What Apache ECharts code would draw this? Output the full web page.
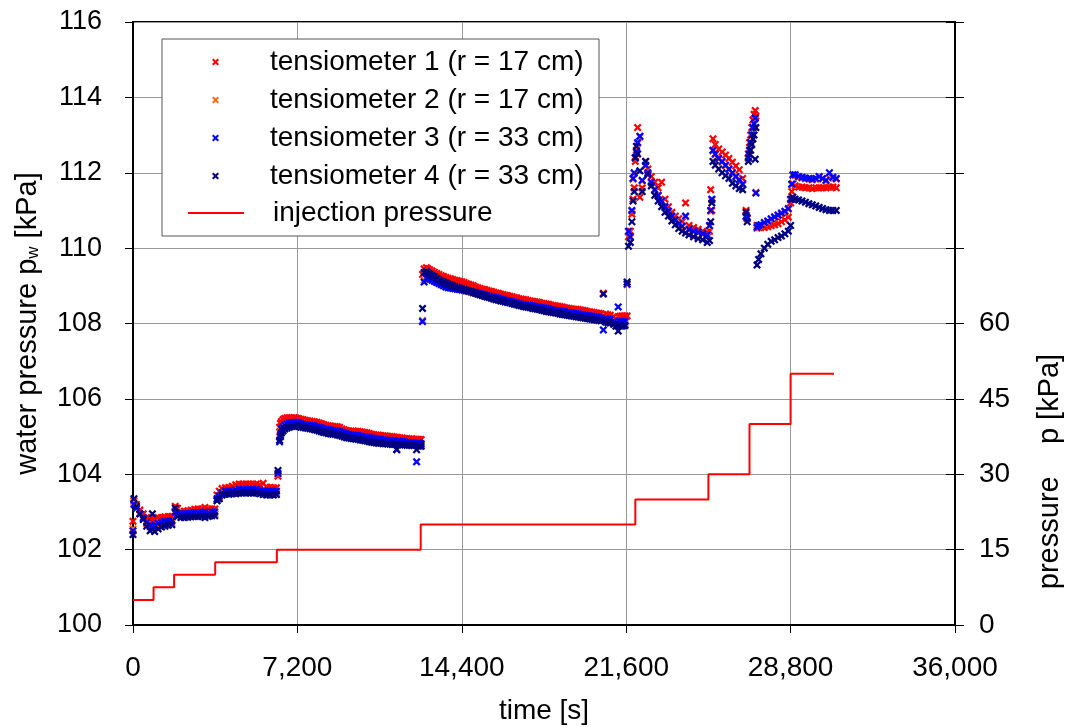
<!DOCTYPE html>
<html>
<head>
<meta charset="utf-8">
<script src="https://cdn.jsdelivr.net/npm/echarts@6/dist/echarts.min.js"></script>
<style>html,body{margin:0;padding:0;background:#fff;}#c{width:1066px;height:727px;}</style>
</head>
<body>
<div id="c"></div>
<script>
// ---- data (time in s, water pressure in kPa) ----
const time = [
  0, 40, 150, 300, 450, 600, 750, 850, 950, 1100, 1250, 1400, 1550, 1700,
  1850, 1950, 2100, 2250, 2400, 2550, 2700, 2850, 3000, 3150, 3300, 3450, 3580,
  3680, 3780, 3900, 4050, 4200, 4350, 4500, 4650, 4800, 4950, 5100, 5250, 5400, 5550, 5700, 5850, 6000, 6150, 6280, 6350,
  6420, 6460, 6500, 6570, 6650, 6750, 6850, 6950, 7050, 7150,
  7250, 7350, 7450, 7550, 7650, 7750, 7850, 7950, 8050, 8150,
  8250, 8350, 8450, 8550, 8650, 8750, 8850, 8950, 9050, 9150,
  9250, 9350, 9450, 9550, 9650, 9750, 9850, 9950, 10050, 10150,
  10250, 10350, 10450, 10550, 10650, 10750, 10850, 10950, 11050, 11150,
  11250, 11350, 11450, 11550, 11620, 11700, 11800, 11900, 12000, 12100,
  12200, 12300, 12420, 12480, 12550, 12620,
  12680, 12750, 12850, 12920, 13000, 13100, 13200, 13300, 13400, 13500,
  13600, 13700, 13800, 13900, 14000, 14100, 14200, 14300, 14400, 14500,
  14600, 14700, 14800, 14900, 15000, 15100, 15200, 15300, 15400, 15500,
  15600, 15700, 15800, 15900, 16000, 16100, 16200, 16300, 16400, 16500,
  16600, 16700, 16800, 16900, 17000, 17100, 17200, 17300, 17400, 17500,
  17600, 17700, 17800, 17900, 18000, 18100, 18200, 18300, 18400, 18500,
  18600, 18700, 18800, 18900, 19000, 19100, 19200, 19300, 19400, 19500,
  19600, 19700, 19800, 19900, 20000, 20100, 20200, 20300, 20400, 20500,
  20600, 20700, 20800, 20900, 21050, 21150, 21250, 21320, 21400, 21480, 21550,
  21640, 21700, 21780, 21850, 21900, 21950, 22000, 22050, 22100, 22200, 22300, 22450, 22550, 22700, 22850, 23000, 23150, 23300, 23450, 23600, 23750, 23900, 24050, 24200, 24350, 24550, 24750, 24950, 25150,
  25250, 25300, 25350, 25400, 25500, 25650, 25800, 25950, 26100, 26250, 26400, 26550, 26700, 26850, 26900,
  26950, 27000, 27050, 27100, 27150, 27200, 27250, 27280,
  27330, 27400, 27500, 27650, 27800, 27950, 28100, 28250, 28400, 28550, 28700, 28800,
  28850, 28900, 29000, 29150, 29300, 29450, 29600, 29750, 29900, 30050, 30200, 30350, 30500, 30650, 30800
];
const tens1 = [
  102.75, 103.3, 103.2, 103.05, 102.95, 102.85, 102.8, 102.8, 102.82, 102.85, 102.85, 102.87, 102.88, 102.88,
  103.15, 103.1, 103.0, 103.02, 103.03, 103.05, 103.07, 103.08, 103.08, 103.12, 103.08, 103.08, 103.08,
  103.45, 103.55, 103.62, 103.64, 103.65, 103.68, 103.72, 103.74, 103.74, 103.74, 103.74, 103.74, 103.74, 103.72, 103.76, 103.66, 103.65, 103.64, 103.64, 103.95,
  105.25, 105.35, 105.4, 105.45, 105.48, 105.5, 105.5, 105.5, 105.5, 105.49,
  105.48, 105.46, 105.45, 105.43, 105.42, 105.41, 105.4, 105.39, 105.38, 105.36,
  105.34, 105.32, 105.3, 105.29, 105.28, 105.27, 105.27, 105.26, 105.24, 105.2,
  105.18, 105.16, 105.15, 105.15, 105.15, 105.14, 105.14, 105.13, 105.12, 105.11,
  105.1, 105.08, 105.06, 105.05, 105.04, 105.04, 105.03, 105.02, 105.02, 105.01,
  105.0, 105.0, 104.99, 104.98, 104.97, 104.96, 104.96, 104.95, 104.95, 104.94,
  104.94, 104.93, 104.93, 104.92, 104.92, 104.92,
  109.3, 109.45, 109.48, 109.45, 109.42, 109.39, 109.36, 109.33, 109.3, 109.27,
  109.25, 109.22, 109.2, 109.19, 109.17, 109.15, 109.14, 109.12, 109.11, 109.09,
  109.06, 109.04, 109.02, 109.0, 108.97, 108.95, 108.93, 108.91, 108.9, 108.88,
  108.86, 108.85, 108.83, 108.81, 108.8, 108.78, 108.77, 108.75, 108.74, 108.72,
  108.71, 108.69, 108.68, 108.66, 108.65, 108.64, 108.63, 108.61, 108.6, 108.59,
  108.58, 108.57, 108.56, 108.54, 108.53, 108.52, 108.51, 108.49, 108.48, 108.47,
  108.46, 108.45, 108.44, 108.42, 108.41, 108.4, 108.39, 108.38, 108.38, 108.37,
  108.36, 108.35, 108.34, 108.32, 108.31, 108.3, 108.29, 108.28, 108.27, 108.26,
  108.8, 108.25, 108.23, 108.22, 108.18, 108.1, 108.18, 108.19, 108.2, 108.2, 108.2,
  108.2, 110.3, 110.45, 110.9, 111.3, 111.6, 112.3, 112.6, 113.2, 111.35, 111.6, 112.3, 112.1, 111.9, 111.75, 111.6, 111.75, 111.3, 111.1, 110.95, 110.85, 110.78, 110.7, 111.2, 110.6, 110.55, 110.5, 110.45, 110.42,
  110.45, 111.55, 111.0, 112.9, 112.75, 112.63, 112.55, 112.47, 112.38, 112.28, 112.18, 112.08, 111.85, 111.0, 110.8,
  112.5, 112.8, 113.0, 113.2, 113.4, 113.55, 113.65, 113.5,
  110.6, 110.55, 110.55, 110.55, 110.57, 110.6, 110.62, 110.65, 110.7, 110.75, 110.82, 111.2,
  111.5, 111.7, 111.65, 111.62, 111.62, 111.6, 111.6, 111.58, 111.6, 111.6, 111.6, 111.6, 111.62, 111.62, 111.6
];
const tens2 = [
  102.55, 103.25, 103.12, 102.95, 102.82, 102.68, 102.6, 102.6, 102.58, 102.62, 102.66, 102.68, 102.7, 102.7,
  103.02, 102.9, 102.9, 102.9, 102.9, 102.92, 102.93, 102.93, 102.93, 102.94, 102.93, 102.94, 102.95,
  103.3, 103.38, 103.46, 103.5, 103.5, 103.52, 103.53, 103.55, 103.55, 103.55, 103.55, 103.55, 103.55, 103.53, 103.52, 103.5, 103.5, 103.5, 103.5, 104.0,
  105.0, 105.1, 105.15, 105.2, 105.25, 105.28, 105.3, 105.31, 105.32, 105.31,
  105.3, 105.29, 105.28, 105.27, 105.26, 105.25, 105.24, 105.23, 105.22, 105.2,
  105.18, 105.16, 105.15, 105.13, 105.12, 105.11, 105.1, 105.09, 105.08, 105.06,
  105.04, 105.02, 105.0, 105.0, 104.99, 104.98, 104.98, 104.96, 104.95, 104.94,
  104.93, 104.91, 104.9, 104.89, 104.88, 104.87, 104.87, 104.86, 104.86, 104.85,
  104.85, 104.84, 104.84, 104.84, 104.83, 104.83, 104.82, 104.82, 104.81, 104.81,
  104.8, 104.8, 104.78, 104.79, 104.78, 104.78,
  108.08, 109.15, 109.2, 109.19, 109.18, 109.15, 109.12, 109.1, 109.08, 109.05,
  109.02, 109.0, 108.97, 108.96, 108.94, 108.93, 108.92, 108.91, 108.9, 108.88,
  108.86, 108.85, 108.83, 108.81, 108.8, 108.78, 108.77, 108.75, 108.74, 108.72,
  108.71, 108.7, 108.68, 108.66, 108.65, 108.63, 108.62, 108.6, 108.59, 108.57,
  108.56, 108.55, 108.54, 108.52, 108.51, 108.5, 108.49, 108.47, 108.46, 108.45,
  108.44, 108.43, 108.42, 108.4, 108.39, 108.38, 108.37, 108.36, 108.35, 108.34,
  108.33, 108.31, 108.3, 108.29, 108.28, 108.27, 108.26, 108.25, 108.24, 108.23,
  108.22, 108.21, 108.2, 108.19, 108.18, 108.17, 108.16, 108.15, 108.14, 108.13,
  108.1, 108.1, 108.09, 108.07, 108.02, 107.98, 107.95, 108.0, 108.0, 108.0, 108.0,
  109.03, 110.43, 110.28, 110.98, 111.83, 111.98, 112.38, 112.53, 112.78, 112.95, 111.78, 112.18, 111.98, 111.73, 111.53, 111.38, 111.23, 111.08, 110.96, 110.83, 110.73, 110.63, 110.56, 110.83, 110.48, 110.43, 110.4, 110.36, 110.33,
  110.58, 110.98, 111.28, 112.58, 112.48, 112.36, 112.28, 112.18, 112.08, 111.98, 111.88, 111.8, 111.68, 110.83, 110.78,
  112.38, 112.58, 112.78, 112.98, 113.18, 113.28, 113.43, 111.48,
  110.53, 110.58, 110.6, 110.66, 110.7, 110.76, 110.81, 110.86, 110.91, 110.96, 111.03, 111.28,
  111.68, 111.93, 111.93, 111.88, 111.86, 111.84, 111.83, 111.81, 111.83, 111.88, 111.83, 111.78, 111.86, 111.86, 111.83
];
const tens3 = [
  102.5, 103.2, 103.1, 102.95, 102.85, 102.72, 102.65, 102.62, 102.65, 102.7, 102.72, 102.75, 102.76, 102.76,
  103.0, 102.95, 102.95, 102.95, 102.96, 102.97, 102.98, 102.98, 102.98, 103.0, 102.98, 103.0, 103.0,
  103.35, 103.42, 103.5, 103.55, 103.55, 103.56, 103.58, 103.6, 103.6, 103.6, 103.6, 103.6, 103.6, 103.58, 103.56, 103.55, 103.55, 103.55, 103.55, 104.02,
  104.86, 105.05, 105.2, 105.25, 105.3, 105.33, 105.35, 105.37, 105.38, 105.37,
  105.36, 105.34, 105.33, 105.32, 105.31, 105.3, 105.3, 105.28, 105.27, 105.25,
  105.23, 105.21, 105.19, 105.18, 105.17, 105.16, 105.16, 105.14, 105.13, 105.11,
  105.09, 105.07, 105.06, 105.05, 105.04, 105.03, 105.03, 105.01, 105.0, 104.99,
  104.98, 104.97, 104.96, 104.95, 104.94, 104.93, 104.93, 104.92, 104.91, 104.9,
  104.9, 104.89, 104.89, 104.65, 104.88, 104.87, 104.86, 104.86, 104.85, 104.84,
  104.84, 104.83, 104.33, 104.82, 104.82, 104.81,
  108.05, 109.1, 109.2, 109.19, 109.18, 109.15, 109.12, 109.09, 109.06, 109.03,
  109.0, 108.97, 108.95, 108.94, 108.93, 108.92, 108.91, 108.9, 108.89, 108.88,
  108.87, 108.86, 108.85, 108.83, 108.82, 108.8, 108.79, 108.77, 108.76, 108.74,
  108.73, 108.71, 108.7, 108.68, 108.67, 108.65, 108.64, 108.62, 108.61, 108.59,
  108.58, 108.56, 108.55, 108.53, 108.52, 108.51, 108.5, 108.49, 108.48, 108.47,
  108.46, 108.44, 108.43, 108.42, 108.41, 108.4, 108.39, 108.37, 108.36, 108.35,
  108.34, 108.33, 108.32, 108.31, 108.3, 108.29, 108.28, 108.27, 108.26, 108.25,
  108.24, 108.23, 108.22, 108.21, 108.2, 108.19, 108.18, 108.17, 108.16, 108.15,
  107.83, 108.12, 108.11, 108.1, 108.06, 108.02, 108.44, 108.04, 108.05, 108.05, 108.05,
  109.05, 110.45, 110.3, 111.0, 111.85, 112.0, 112.4, 112.55, 112.8, 112.97, 111.8, 112.2, 112.0, 111.75, 111.55, 111.4, 111.25, 111.1, 110.98, 110.85, 110.75, 110.65, 110.58, 110.85, 110.5, 110.45, 110.42, 110.38, 110.35,
  110.6, 111.0, 111.3, 112.6, 112.5, 112.38, 112.3, 112.2, 112.1, 112.0, 111.9, 111.82, 111.7, 110.85, 110.8,
  112.4, 112.6, 112.8, 113.0, 113.2, 113.3, 113.45, 111.46,
  110.55, 110.6, 110.62, 110.68, 110.72, 110.78, 110.83, 110.88, 110.93, 110.98, 111.05, 111.3,
  111.7, 111.95, 111.95, 111.9, 111.88, 111.86, 111.85, 111.83, 111.85, 111.9, 111.85, 111.8, 112.0, 111.88, 111.85
];
const tens4 = [
  102.4, 103.35, 103.15, 102.95, 102.8, 102.62, 102.5, 102.95, 102.48, 102.55, 102.6, 102.62, 102.65, 102.66,
  103.1, 102.88, 102.85, 102.85, 102.86, 102.87, 102.88, 102.88, 102.88, 102.85, 102.88, 102.9, 102.9,
  103.3, 103.35, 103.45, 103.47, 103.47, 103.48, 103.48, 103.5, 103.5, 103.5, 103.5, 103.5, 103.5, 103.48, 103.46, 103.45, 103.45, 103.45, 103.46, 104.1,
  104.9, 105.0, 105.1, 105.15, 105.2, 105.23, 105.25, 105.27, 105.28, 105.28,
  105.27, 105.25, 105.24, 105.23, 105.22, 105.21, 105.2, 105.18, 105.17, 105.15,
  105.13, 105.11, 105.1, 105.08, 105.07, 105.06, 105.06, 105.04, 105.03, 105.01,
  104.99, 104.97, 104.96, 104.95, 104.94, 104.93, 104.93, 104.91, 104.9, 104.89,
  104.88, 104.86, 104.85, 104.84, 104.83, 104.82, 104.82, 104.81, 104.81, 104.8,
  104.8, 104.79, 104.79, 104.66, 104.78, 104.78, 104.78, 104.78, 104.77, 104.77,
  104.76, 104.76, 104.65, 104.75, 104.75, 104.74,
  108.4, 109.35, 109.38, 109.34, 109.3, 109.27, 109.24, 109.2, 109.16, 109.13,
  109.1, 109.07, 109.04, 109.02, 109.0, 108.98, 108.96, 108.94, 108.92, 108.9,
  108.88, 108.86, 108.85, 108.82, 108.8, 108.78, 108.76, 108.74, 108.72, 108.7,
  108.69, 108.67, 108.65, 108.63, 108.62, 108.6, 108.59, 108.57, 108.56, 108.55,
  108.53, 108.51, 108.5, 108.48, 108.47, 108.45, 108.44, 108.43, 108.42, 108.4,
  108.39, 108.38, 108.37, 108.35, 108.34, 108.32, 108.31, 108.3, 108.29, 108.28,
  108.27, 108.25, 108.24, 108.23, 108.22, 108.21, 108.2, 108.19, 108.18, 108.17,
  108.16, 108.15, 108.14, 108.13, 108.12, 108.11, 108.1, 108.09, 108.08, 108.07,
  108.78, 108.04, 108.02, 108.01, 107.98, 107.93, 107.8, 107.94, 107.93, 107.94, 107.95,
  109.1, 110.05, 110.15, 110.7, 111.25, 111.5, 112.4, 112.7, 112.5, 112.05, 111.5, 112.3, 111.95, 111.65, 111.4, 111.25, 111.1, 110.95, 110.85, 110.72, 110.62, 110.52, 110.45, 110.4, 110.35, 110.3, 110.25, 110.22, 110.15,
  110.2, 110.7, 111.2, 112.3, 112.2, 112.1, 112.0, 111.92, 111.85, 111.72, 111.65, 111.58, 111.55, 110.95, 110.7,
  112.3, 112.5, 112.6, 112.75, 112.9, 113.0, 112.36, 113.2,
  109.55, 109.7, 109.85, 110.0, 110.1, 110.18, 110.22, 110.28, 110.32, 110.38, 110.45, 110.6,
  111.3, 111.35, 111.3, 111.28, 111.25, 111.22, 111.18, 111.15, 111.12, 111.08, 111.05, 111.02, 111.0, 111.0, 111.0
];
// injection pressure steps (value held from each time on)
const injTime = [0, 900, 1800, 3600, 6300, 12600, 22000, 25200, 27000, 28800, 30700];
const injPressure = [5, 7.5, 10, 12.5, 15, 20, 25, 30, 40, 50, 50];

const seriesNames = ['tensiometer 1 (r = 17 cm)', 'tensiometer 2 (r = 17 cm)', 'tensiometer 3 (r = 33 cm)', 'tensiometer 4 (r = 33 cm)'];
const seriesColors = ['#ff0000', '#ff6a13', '#0000ff', '#000080'];
const injName = 'injection pressure';

const xTicks = { min: 0, max: 36000, interval: 7200 };
const yLeft = { min: 100, max: 116, interval: 2 };
const yRight = { min: 0, max: 120, interval: 15, labelMax: 60 };

// ---- chart ----
const FONT = '"Liberation Sans", Arial, Helvetica, sans-serif';
const CROSS = 'path://M0,2L2,0L5,3L8,0L10,2L7,5L10,8L8,10L5,7L2,10L0,8L3,5Z';
const tensData = [tens1, tens2, tens3, tens4];

const chart = echarts.init(document.getElementById('c'), null, { renderer: 'canvas' });

const series = tensData.map((vals, k) => ({
  name: seriesNames[k],
  type: 'scatter',
  xAxisIndex: 0,
  yAxisIndex: 0,
  symbol: CROSS,
  symbolSize: 8,
  itemStyle: { color: seriesColors[k], opacity: 1 },
  emphasis: { disabled: true },
  data: time.map((t, i) => [t, vals[i]]),
  z: 2 + k * 0.01
}));
series.push({
  name: injName,
  type: 'line',
  xAxisIndex: 0,
  yAxisIndex: 1,
  step: 'end',
  symbol: 'none',
  showSymbol: false,
  lineStyle: { color: '#ff0000', width: 2 },
  itemStyle: { color: '#ff0000' },
  emphasis: { disabled: true },
  data: injTime.map((t, i) => [t, injPressure[i]]),
  z: 3
});

const option = {
  animation: false,
  backgroundColor: '#ffffff',
  textStyle: { fontFamily: FONT, color: '#000' },
  grid: {
    left: 133, right: 111, top: 22, bottom: 102,
    outerBoundsMode: 'none',
    containLabel: false,
    show: true, borderColor: '#000', borderWidth: 2, backgroundColor: 'transparent'
  },
  graphic: [{
    type: 'rect',
    z: 3,
    shape: { x: 162, y: 39, width: 437, height: 197 },
    style: { fill: '#ffffff', stroke: '#555555', lineWidth: 1 }
  }],
  legend: [{
    data: seriesNames.map(n => ({ name: n })),
    orient: 'vertical',
    left: 212,
    top: 48,
    padding: 0,
    itemWidth: 7,
    itemHeight: 7,
    itemGap: 10,
    selectedMode: false,
    textStyle: { fontSize: 28, fontFamily: FONT, color: '#000', padding: [0, 0, 0, 46] },
    z: 5
  }, {
    data: [{ name: injName, icon: 'rect' }],
    orient: 'vertical',
    left: 188,
    top: 199,
    padding: 0,
    itemWidth: 56,
    itemHeight: 2,
    selectedMode: false,
    textStyle: { fontSize: 28, fontFamily: FONT, color: '#000', padding: [0, 0, 0, 24] },
    z: 5
  }],
  xAxis: [{
    type: 'value',
    min: xTicks.min, max: xTicks.max, interval: xTicks.interval,
    name: 'time [s]',
    nameLocation: 'middle',
    nameGap: 72,
    nameTextStyle: { fontSize: 28, fontFamily: FONT, color: '#000' },
    axisLine: { show: true, lineStyle: { color: '#000', width: 2 } },
    axisTick: { show: true, inside: false, length: 8, lineStyle: { color: '#000', width: 1 } },
    axisLabel: {
      fontSize: 28, fontFamily: FONT, color: '#000', margin: 29,
      formatter: v => v.toLocaleString('en-US')
    },
    splitLine: { show: true, lineStyle: { color: '#999', width: 1 } }
  }],
  yAxis: [{
    type: 'value',
    position: 'left',
    min: yLeft.min, max: yLeft.max, interval: yLeft.interval,
    name: '{a|water pressure p}{s|w}{a| [kPa]}',
    nameLocation: 'middle',
    nameRotate: 90,
    nameGap: 91,
    nameTextStyle: {
      fontSize: 29, fontFamily: FONT, color: '#000',
      rich: {
        a: { fontSize: 29, fontFamily: FONT, color: '#000' },
        s: { fontSize: 17, fontFamily: FONT, color: '#000', padding: [12, 0, 0, 0] }
      }
    },
    axisLine: { show: true, lineStyle: { color: '#000', width: 2 } },
    axisTick: { show: true, inside: false, length: 8, lineStyle: { color: '#000', width: 1 } },
    axisLabel: { fontSize: 27, fontFamily: FONT, color: '#000', margin: 31 },
    splitLine: { show: true, lineStyle: { color: '#999', width: 1 } }
  }, {
    type: 'value',
    position: 'right',
    min: yRight.min, max: yRight.max, interval: yRight.interval,
    name: 'pressure    p [kPa]',
    nameLocation: 'middle',
    nameRotate: 90,
    nameGap: 80,
    nameTextStyle: { fontSize: 29, fontFamily: FONT, color: '#000', padding: [0, 296, 0, 0] },
    axisLine: { show: true, lineStyle: { color: '#000', width: 2 } },
    axisTick: { show: true, inside: false, length: 9, lineStyle: { color: '#000', width: 1 } },
    axisLabel: {
      fontSize: 28, fontFamily: FONT, color: '#000', margin: 24,
      formatter: v => (v <= yRight.labelMax ? String(v) : '')
    },
    splitLine: { show: false }
  }, {
    type: 'value',
    position: 'right',
    min: yRight.min, max: yRight.max, interval: yRight.interval,
    axisLine: { show: false },
    axisTick: { show: true, inside: true, length: 9, lineStyle: { color: '#000', width: 1 } },
    axisLabel: { show: false },
    splitLine: { show: false }
  }],
  series: series
};
chart.setOption(option);
</script>
</body>
</html>
